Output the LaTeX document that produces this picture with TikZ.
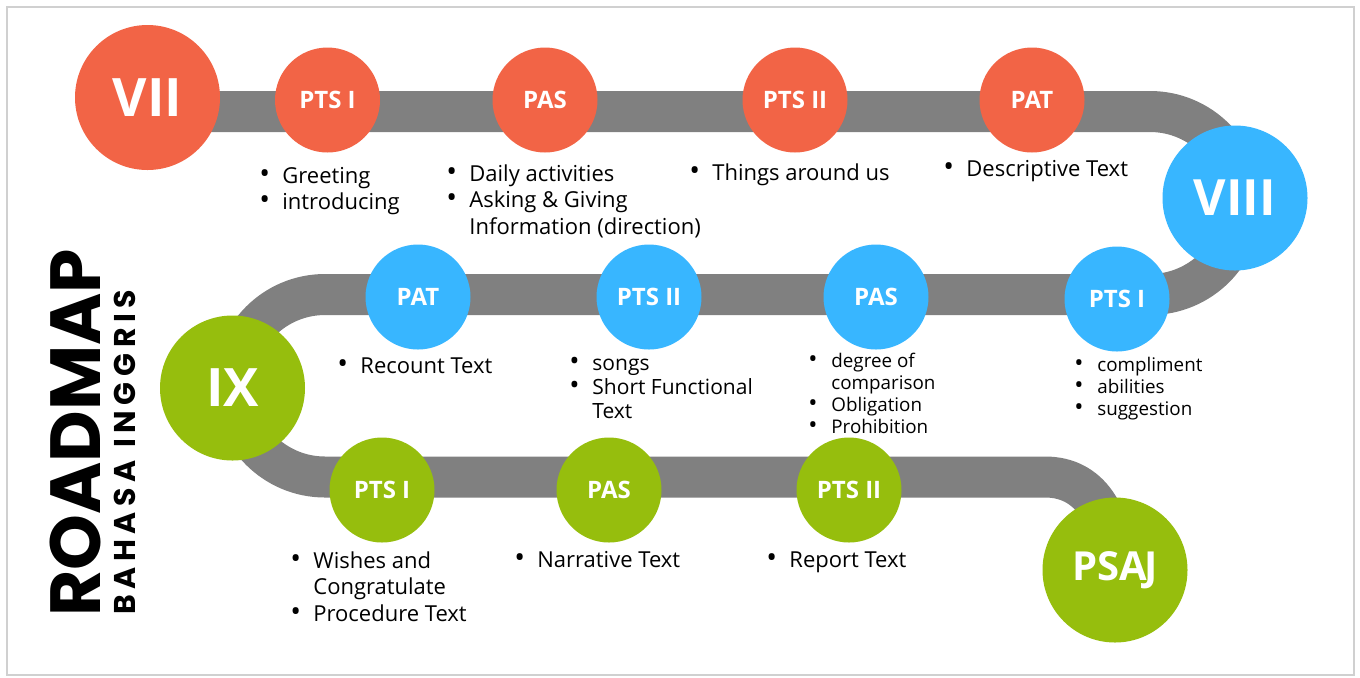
\documentclass[tikz,border=0pt]{standalone}
\usepackage{fontspec}
\setmainfont{Open Sans}
\newfontfamily\headfont{Poppins}
\definecolor{roadgray}{HTML}{808080}
\definecolor{framegray}{HTML}{D0D0D0}
\definecolor{sevenorange}{HTML}{F26446}
\definecolor{eightblue}{HTML}{38B6FF}
\definecolor{ninegreen}{HTML}{96BE0D}
\newlength\bulletbox
\setlength\bulletbox{11.5pt}
\newcommand\itm{\makebox[\bulletbox][l]{\smash{\scalebox{1.3}{\textbullet}}}}
\newcommand\cont{\hspace*{\bulletbox}}
\newcommand\topics[1]{\begin{tabular}[t]{@{}l@{}}#1\end{tabular}}

\begin{document}
\begin{tikzpicture}[x=0.5pt, y=-0.5pt,
        stopdot/.style={circle, fill=#1, text=white, minimum size=52.5pt, inner sep=0pt, font=\bfseries\fontsize{12}{14}\selectfont},
        gradedot/.style={circle, fill=#1, text=white, minimum size=72.5pt, inner sep=0pt, font=\bfseries\fontsize{26.5}{30}\selectfont},
        topic/.style={anchor=base west, inner sep=0pt, font=\fontsize{11}{13.3}\selectfont},
        midtopic/.style={topic, font=\fontsize{10.5}{12.2}\selectfont},
        smalltopic/.style={topic, font=\fontsize{9.4}{11}\selectfont},
        road/.style={line width=20.5pt, roadgray}]
        \useasboundingbox (0,0) rectangle (1360,677);
        \fill[white] (0,0) rectangle (1360,677);
        \draw[framegray, line width=1pt] (7,7) rectangle (1354,675);
        \coordinate (roadstart) at (148,111.5);
        \coordinate (turnright) at (1150,111.5);
        \coordinate (turnleft) at (325,294.5);
        \coordinate (lastrow) at (1045,477);
        \coordinate (roadend) at (1115,570);
        \draw[road] (roadstart) -- (turnright) arc[start angle=-90, end angle=90, radius=91.5]
            -- (turnleft) arc[start angle=270, end angle=90, radius=91.25]
            -- (lastrow) .. controls (1090,477) and (1112,515) .. (roadend);
        \node[rotate=90, anchor=base west, font=\headfont\bfseries\fontsize{35.5}{40}\selectfont] (title) at (100,624) {ROADMAP};
        \node[rotate=90, anchor=base west, font=\headfont\bfseries\fontsize{15}{18}\selectfont\addfontfeatures{LetterSpace=19}] (subtitle) at (135,622) {BAHASA INGGRIS};
        \node[gradedot=sevenorange] (g7) at (147.5,97.5) {VII};
        \node[stopdot=sevenorange] (g7pts1) at (327.5,100) {PTS I};
        \node[stopdot=sevenorange] (g7pas) at (545,100) {PAS};
        \node[stopdot=sevenorange] (g7pts2) at (795,100) {PTS II};
        \node[stopdot=sevenorange] (g7pat) at (1032,100) {PAT};
        \node[gradedot=eightblue, font=\bfseries\fontsize{25}{30}\selectfont] (g8) at (1235,198) {VIII};
        \node[stopdot=eightblue] (g8pts1) at (1117,299) {PTS I};
        \node[stopdot=eightblue] (g8pas) at (876,297) {PAS};
        \node[stopdot=eightblue] (g8pts2) at (649,297) {PTS II};
        \node[stopdot=eightblue] (g8pat) at (418,297) {PAT};
        \node[gradedot=ninegreen] (g9) at (232.5,388) {IX};
        \node[stopdot=ninegreen] (g9pts1) at (382,490) {PTS I};
        \node[stopdot=ninegreen] (g9pas) at (609,490) {PAS};
        \node[stopdot=ninegreen] (g9pts2) at (849,490) {PTS II};
        \node[gradedot=ninegreen, font=\bfseries\fontsize{20}{24}\selectfont] (psaj) at (1115,570) {PSA\kern-1pt J};
        \node[topic] (g7pts1topics) at (259,183) {\topics{\itm Greeting\\ \itm introducing}};
        \node[topic] (g7pastopics) at (446,181) {\topics{\itm Daily activities\\ \itm Asking \& Giving\\ \cont Information (direction)}};
        \node[topic] (g7pts2topics) at (689,180) {\topics{\itm Things around us}};
        \node[topic] (g7pattopics) at (943,176) {\topics{\itm Descriptive Text}};
        \node[topic] (g8pattopics) at (337,373) {\topics{\itm Recount Text}};
        \node[midtopic] (g8pts2topics) at (569,370) {\topics{\itm songs\\ \itm Short Functional\\ \cont Text}};
        \node[smalltopic] (g8pastopics) at (808,367) {\topics{\itm degree of\\ \cont comparison\\ \itm Obligation\\ \itm Prohibition}};
        \node[smalltopic] (g8pts1topics) at (1074,371) {\topics{\itm compliment\\ \itm abilities\\ \itm suggestion}};
        \node[topic] (g9pts1topics) at (290,568) {\topics{\itm Wishes and\\ \cont Congratulate\\ \itm Procedure Text}};
        \node[topic] (g9pastopics) at (514,567) {\topics{\itm Narrative Text}};
        \node[topic] (g9pts2topics) at (766,567) {\topics{\itm Report Text}};
\end{tikzpicture}
\end{document}
